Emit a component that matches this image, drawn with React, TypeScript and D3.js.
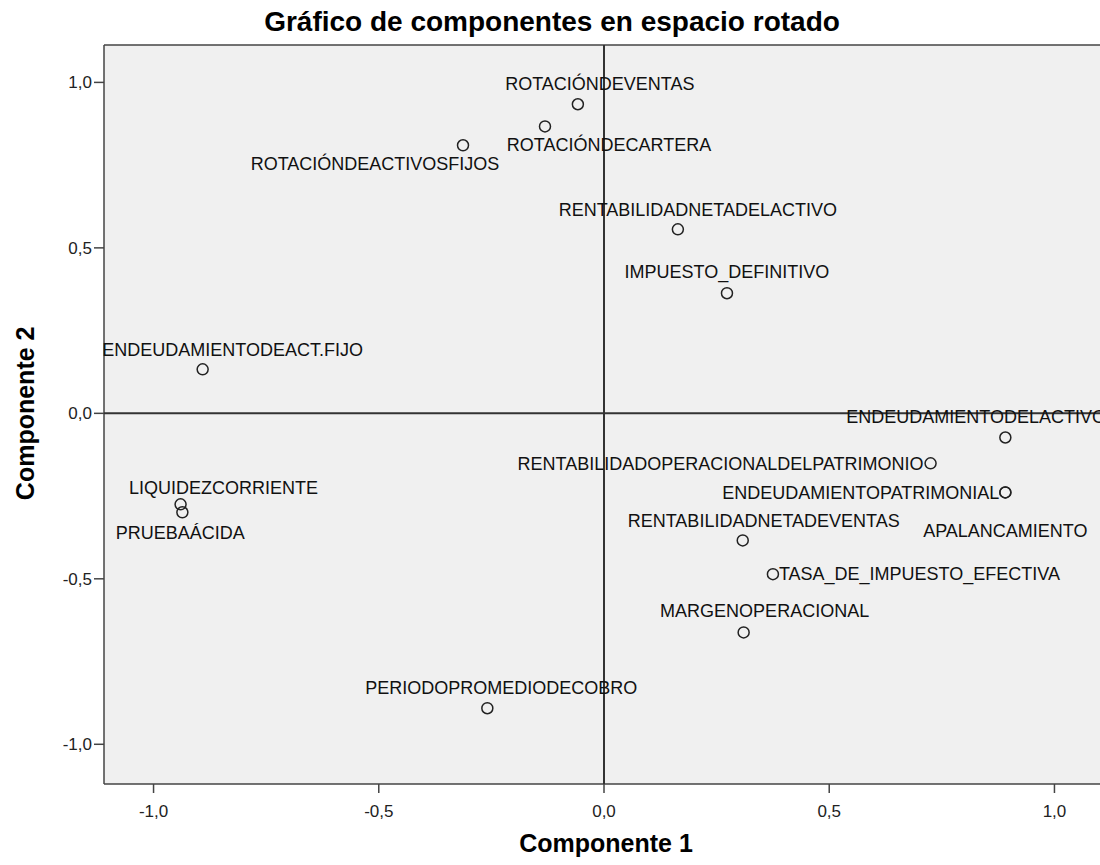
import React from "react";
import * as d3 from "d3";

const variables = [
  "ROTACIÓNDEVENTAS",
  "ROTACIÓNDECARTERA",
  "ROTACIÓNDEACTIVOSFIJOS",
  "RENTABILIDADNETADELACTIVO",
  "IMPUESTO_DEFINITIVO",
  "ENDEUDAMIENTODEACT.FIJO",
  "ENDEUDAMIENTODELACTIVO",
  "RENTABILIDADOPERACIONALDELPATRIMONIO",
  "ENDEUDAMIENTOPATRIMONIAL",
  "APALANCAMIENTO",
  "LIQUIDEZCORRIENTE",
  "PRUEBAÁCIDA",
  "RENTABILIDADNETADEVENTAS",
  "TASA_DE_IMPUESTO_EFECTIVA",
  "MARGENOPERACIONAL",
  "PERIODOPROMEDIODECOBRO",
];
const component1 = [-0.058, -0.131, -0.313, 0.164, 0.273, -0.891, 0.891, 0.725, 0.891, 0.891, -0.94, -0.936, 0.308, 0.375, 0.31, -0.259];
const component2 = [0.934, 0.867, 0.81, 0.556, 0.363, 0.133, -0.073, -0.151, -0.239, -0.239, -0.275, -0.299, -0.384, -0.486, -0.662, -0.891];
const tickValues = [-1, -0.5, 0, 0.5, 1];

// label placement (styling): anchor, dx, dy in px relative to point
const labelAnchor = ["middle", "middle", "middle", "middle", "middle", "middle", "start", "end", "end", "middle", "middle", "middle", "middle", "start", "middle", "middle"];
const labelDx = [22, 64, -88, 20, 0, 30, -159, -7, -6, 0, 43, -2, 21, 6, 21, 14];
const labelDy = [-21, 18, 18, -20, -22, -20, -21, 0, 0, 38, -17, 20, -20, 0, -22, -21];

export default function App() {
  const W = 1100, H = 865;
  const left = 104, right = 1104, top = 45, bottom = 784;
  const x = d3.scaleLinear().domain([-1.11, 1.11]).range([left, right]);
  const y = d3.scaleLinear().domain([-1.12, 1.113]).range([bottom, top]);
  const fmt = (v: number) => d3.format(".1f")(v).replace(".", ",").replace("−", "-");
  const font = "'Liberation Sans', Arial, sans-serif";
  const ink = "#222";

  return (
    <svg width={W} height={H} style={{ position: "absolute", left: 0, top: 0, background: "#fff" }} fontFamily={font}>
      <text x={552} y={31} textAnchor="middle" fontSize={28} fontWeight="bold" fill="#000">Gráfico de componentes en espacio rotado</text>
      <rect x={left} y={top} width={right - left} height={bottom - top} fill="#F0F0F0" />
      <line x1={left} x2={right} y1={top} y2={top} stroke="#444" strokeWidth={1.5} />
      <line x1={left} x2={left} y1={top} y2={bottom} stroke="#444" strokeWidth={1.5} />
      <line x1={left} x2={right} y1={bottom} y2={bottom} stroke="#444" strokeWidth={1.5} />
      {/* reference lines */}
      <line x1={x(0)} x2={x(0)} y1={top} y2={bottom} stroke="#333" strokeWidth={2} />
      <line x1={left} x2={right} y1={y(0)} y2={y(0)} stroke="#333" strokeWidth={2} />
      {/* y ticks */}
      {tickValues.map((t) => (
        <g key={"y" + t}>
          <line x1={left - 10} x2={left} y1={y(t)} y2={y(t)} stroke="#444" strokeWidth={1.5} />
          <text x={left - 12} y={y(t)} dy="0.35em" textAnchor="end" fontSize={17} fill="#222">{fmt(t)}</text>
        </g>
      ))}
      {/* x ticks */}
      {tickValues.map((t) => (
        <g key={"x" + t}>
          <line x1={x(t)} x2={x(t)} y1={bottom} y2={bottom + 9} stroke="#444" strokeWidth={1.5} />
          <text x={x(t)} y={bottom + 33} textAnchor="middle" fontSize={17} fill="#222">{fmt(t)}</text>
        </g>
      ))}
      <text x={606} y={852} textAnchor="middle" fontSize={25} fontWeight="bold" fill="#000">Componente 1</text>
      <text transform={`translate(34,${y(0)}) rotate(-90)`} textAnchor="middle" fontSize={25} fontWeight="bold" fill="#000">Componente 2</text>
      {/* points */}
      {variables.map((v, i) => (
        <g key={v}>
          <circle cx={x(component1[i])} cy={y(component2[i])} r={5.5} fill="none" stroke={ink} strokeWidth={1.5} />
          <text x={x(component1[i]) + labelDx[i]} y={y(component2[i]) + labelDy[i]} dy="0.35em" textAnchor={labelAnchor[i] as any} fontSize={18} fill="#111">{v}</text>
        </g>
      ))}
    </svg>
  );
}
